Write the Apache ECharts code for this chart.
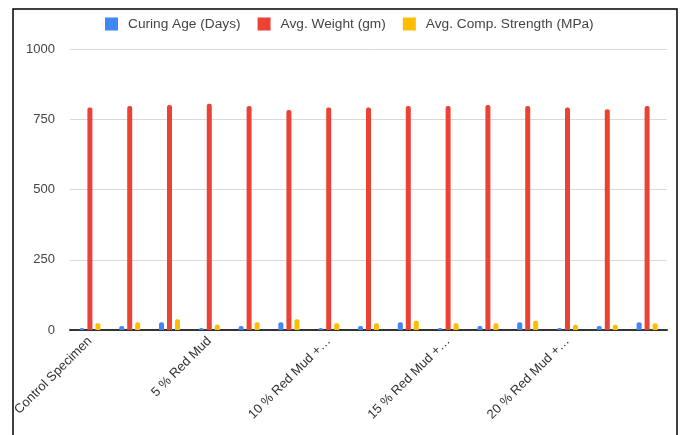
<!DOCTYPE html>
<html>
<head>
<meta charset="utf-8">
<script src="https://cdn.jsdelivr.net/npm/echarts@6/dist/echarts.min.js"></script>
<style>
  html, body { margin: 0; padding: 0; background: #fff; }
  #chart { width: 682px; height: 435px; }
</style>
</head>
<body>
<div id="chart"></div>
<script>
// categories (only every 3rd label is shown, like the original)
const categories = [
  'Control Specimen', 'Control Specimen', 'Control Specimen',
  '5 % Red Mud', '5 % Red Mud', '5 % Red Mud',
  '10 % Red Mud +…', '10 % Red Mud +…', '10 % Red Mud +…',
  '15 % Red Mud +…', '15 % Red Mud +…', '15 % Red Mud +…',
  '20 % Red Mud +…', '20 % Red Mud +…', '20 % Red Mud +…'
]
const curingAge = [7, 14, 28, 7, 14, 28, 7, 14, 28, 7, 14, 28, 7, 14, 28]
const avgWeight = [792, 797, 801, 805, 797, 783, 792, 792, 797, 797, 801, 797, 792, 786, 797]
const compStrength = [24, 28, 38, 20, 28, 38, 24, 24, 33, 24, 24, 33, 19, 19, 24]
const yTicks = [0, 250, 500, 750, 1000]

const font = '"Liberation Sans", Arial, sans-serif'

function barSeries (name, data) {
  return {
    name: name,
    type: 'bar',
    data: data,
    barWidth: 5, // 柱子宽度
    barGap: '60%', // 柱子之间间距
    itemStyle: { borderRadius: [2, 2, 0, 0] }
  }
}

const chart = echarts.init(document.getElementById('chart'))
chart.setOption({
  animation: false,
  color: ['#4285F4', '#EA4335', '#FBBC04'],
  textStyle: { fontFamily: font },
  graphic: [{
    type: 'rect',
    shape: { x: 13, y: 9, width: 664, height: 440 },
    style: { fill: null, stroke: '#000', lineWidth: 1.5 },
    silent: true
  }],
  legend: {
    top: 12,
    left: 100,
    itemWidth: 13,
    itemHeight: 13,
    itemGap: 17,
    icon: 'rect',
    textStyle: { color: '#444', fontSize: 13.7, fontFamily: font, padding: [0, 0, 0, 5] }
  },
  grid: { left: 70, right: 15, top: 49, bottom: 105 },
  xAxis: {
    type: 'category',
    data: categories,
    axisTick: { show: false },
    axisLine: { show: true, lineStyle: { color: '#333', width: 2 } },
    axisLabel: {
      interval: 2,
      rotate: 45,
      margin: 9,
      color: '#333',
      fontSize: 13,
      fontFamily: font
    }
  },
  yAxis: {
    type: 'value',
    min: yTicks[0],
    max: yTicks[yTicks.length - 1],
    interval: 250,
    axisLine: { show: false },
    axisTick: { show: false },
    splitLine: { lineStyle: { color: '#d9d9d9', width: 1 } },
    axisLabel: {
      color: '#444',
      fontSize: 13,
      margin: 15,
      fontFamily: font,
      formatter: v => String(v)
    }
  },
  series: [
    barSeries('Curing Age (Days)', curingAge),
    barSeries('Avg. Weight (gm)', avgWeight),
    barSeries('Avg. Comp. Strength (MPa)', compStrength)
  ]
})
</script>
</body>
</html>
